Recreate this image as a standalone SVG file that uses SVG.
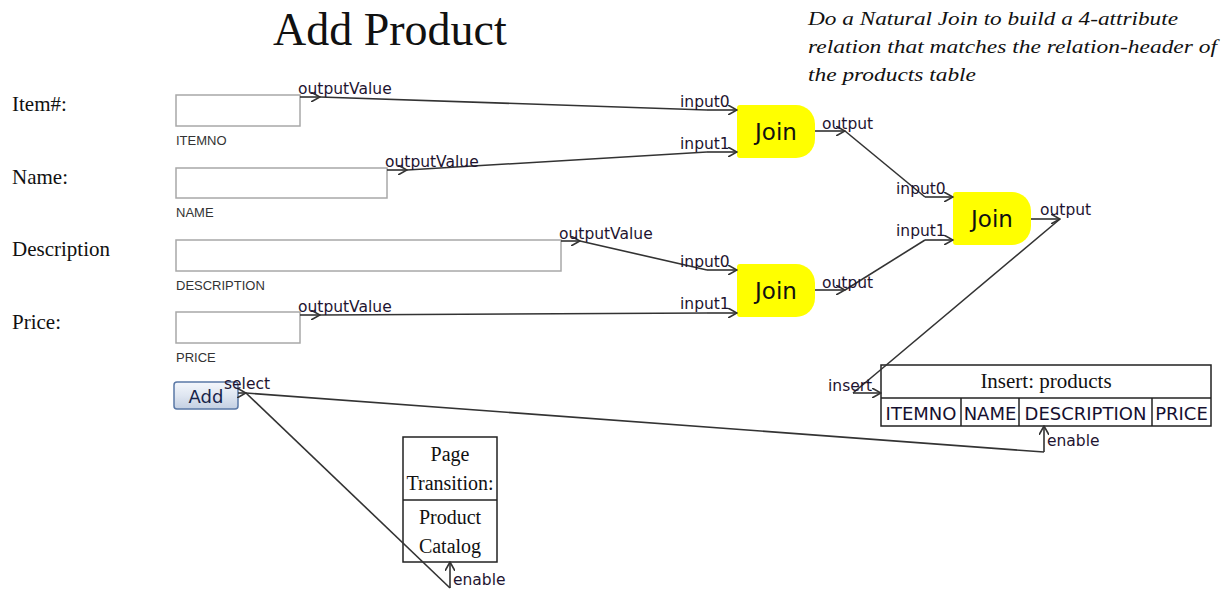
<svg xmlns="http://www.w3.org/2000/svg" width="1231" height="593" viewBox="0 0 1231 593">
  <defs>
    <style>
      .serif { font-family: "Liberation Serif", "Times New Roman", serif; fill: #111; }
      .port { font-family: "DejaVu Sans", Verdana, sans-serif; font-size: 15.5px; fill: #1e1430; }
      .field-name { font-family: "Liberation Sans", Arial, sans-serif; font-size: 13px; fill: #333; }
      .field { fill: #fff; stroke: #a8a8a8; stroke-width: 1.5; }
      .join { fill: #ffff00; }
      .join-text { font-family: "DejaVu Sans", Verdana, sans-serif; font-size: 23px; fill: #111; text-anchor: middle; }
      .box { fill: #fff; stroke: #222; stroke-width: 1.5; }
      .col { font-family: "DejaVu Sans", Verdana, sans-serif; font-size: 18px; fill: #151030; text-anchor: middle; }
      .stub { fill: none; stroke: #333; stroke-width: 1.6; marker-end: url(#chevron); }
      .link { fill: none; stroke: #333; stroke-width: 1.6; }
    </style>
    <marker id="chevron" viewBox="0 0 10 10" refX="9" refY="5" markerWidth="10" markerHeight="10" markerUnits="userSpaceOnUse" orient="auto">
      <path d="M0,0 L9,5 L0,10" fill="none" stroke="#333" stroke-width="1.6"/>
    </marker>
    <linearGradient id="btnFill" x1="0" y1="0" x2="0" y2="1">
      <stop offset="0" stop-color="#f4f7fc"/>
      <stop offset="0.5" stop-color="#dfe6f1"/>
      <stop offset="1" stop-color="#c3cfe2"/>
    </linearGradient>
  </defs>

  <rect width="1231" height="593" fill="#fff"/>

  <!-- page heading and note -->
  <g id="title">
    <text class="serif" x="273" y="45" font-size="46">Add Product</text>
  </g>
  <g id="note" class="serif" font-style="italic" font-size="19">
    <text x="808" y="25" textLength="370" lengthAdjust="spacingAndGlyphs">Do a Natural Join to build a 4-attribute</text>
    <text x="808" y="53" textLength="409" lengthAdjust="spacingAndGlyphs">relation that matches the relation-header of</text>
    <text x="808" y="81" textLength="168" lengthAdjust="spacingAndGlyphs">the products table</text>
  </g>

  <!-- form fields -->
  <g id="field-itemno">
    <text class="serif" x="12" y="111" font-size="21">Item#:</text>
    <rect class="field" x="176" y="95" width="124" height="31"/>
    <text class="field-name" x="176" y="145">ITEMNO</text>
  </g>
  <g id="field-name">
    <text class="serif" x="12" y="184" font-size="21">Name:</text>
    <rect class="field" x="176" y="168" width="211" height="30"/>
    <text class="field-name" x="176" y="217">NAME</text>
  </g>
  <g id="field-description">
    <text class="serif" x="12" y="256" font-size="21">Description</text>
    <rect class="field" x="176" y="240" width="385" height="31"/>
    <text class="field-name" x="176" y="290">DESCRIPTION</text>
  </g>
  <g id="field-price">
    <text class="serif" x="12" y="329" font-size="21">Price:</text>
    <rect class="field" x="176" y="312" width="124" height="31"/>
    <text class="field-name" x="176" y="362">PRICE</text>
  </g>

  <g id="add-button">
    <rect x="174" y="382" width="64" height="27" rx="3" fill="url(#btnFill)" stroke="#5a78a6" stroke-width="1.5"/>
    <text x="206" y="403" font-family="DejaVu Sans, Verdana, sans-serif" font-size="18" fill="#18244a" text-anchor="middle">Add</text>
  </g>

  <!-- join operators -->
  <g id="join1">
    <path class="join" d="M740,105 H796 A19,19 0 0 1 815,124 V139 A19,19 0 0 1 796,158 H740 A3,3 0 0 1 737,155 V108 A3,3 0 0 1 740,105 Z"/>
    <text class="join-text" x="776" y="140">Join</text>
  </g>
  <g id="join2">
    <path class="join" d="M956,192 H1012 A19,19 0 0 1 1031,211 V226 A19,19 0 0 1 1012,245 H956 A3,3 0 0 1 953,242 V195 A3,3 0 0 1 956,192 Z"/>
    <text class="join-text" x="992" y="227">Join</text>
  </g>
  <g id="join3">
    <path class="join" d="M740,264 H796 A19,19 0 0 1 815,283 V298 A19,19 0 0 1 796,317 H740 A3,3 0 0 1 737,314 V267 A3,3 0 0 1 740,264 Z"/>
    <text class="join-text" x="776" y="299">Join</text>
  </g>

  <!-- insert into products -->
  <g id="insert-products">
    <rect class="box" x="881" y="365" width="330" height="61"/>
    <line x1="881" y1="398" x2="1211" y2="398" stroke="#222" stroke-width="1.5"/>
    <line x1="961" y1="398" x2="961" y2="426" stroke="#222" stroke-width="1.5"/>
    <line x1="1019" y1="398" x2="1019" y2="426" stroke="#222" stroke-width="1.5"/>
    <line x1="1152" y1="398" x2="1152" y2="426" stroke="#222" stroke-width="1.5"/>
    <text class="serif" x="1046" y="388" font-size="21" text-anchor="middle">Insert: products</text>
    <text class="col" x="921" y="420">ITEMNO</text>
    <text class="col" x="990" y="420">NAME</text>
    <text class="col" x="1085.5" y="420">DESCRIPTION</text>
    <text class="col" x="1181.5" y="420">PRICE</text>
  </g>

  <!-- page transition -->
  <g id="page-transition">
    <rect class="box" x="403" y="437" width="94" height="125"/>
    <line x1="403" y1="500" x2="497" y2="500" stroke="#222" stroke-width="1.5"/>
    <g class="serif" font-size="20" text-anchor="middle">
      <text x="450" y="461">Page</text>
      <text x="450" y="490">Transition:</text>
      <text x="450" y="524">Product</text>
      <text x="450" y="553">Catalog</text>
    </g>
  </g>

  <!-- wiring between ports -->
  <g id="connectors">
    <path class="link" d="M320,97 L707,110"/>
    <path class="link" d="M407,170 L707,152"/>
    <path class="link" d="M580,241 L707,270"/>
    <path class="link" d="M320,315 L707,313"/>
    <path class="link" d="M845,131 L925,197"/>
    <path class="link" d="M845,290 L925,240"/>
    <path class="link" d="M1060,219 L853,393"/>
    <path class="link" d="M246,393 L1044,452"/>
    <path class="link" d="M246,393 L450,588"/>

    <path class="stub" d="M300,97 H320"/>
    <path class="stub" d="M387,170 H407"/>
    <path class="stub" d="M561,241 H580"/>
    <path class="stub" d="M300,315 H320"/>
    <path class="stub" d="M707,110 H737"/>
    <path class="stub" d="M707,152 H737"/>
    <path class="stub" d="M815,131 H845"/>
    <path class="stub" d="M925,197 H953"/>
    <path class="stub" d="M925,240 H953"/>
    <path class="stub" d="M1031,219 H1060"/>
    <path class="stub" d="M707,270 H737"/>
    <path class="stub" d="M707,313 H737"/>
    <path class="stub" d="M815,290 H845"/>
    <path class="stub" d="M853,393 H881"/>
    <path class="stub" d="M238,393 H246"/>
    <path class="stub" d="M1044,452 V426"/>
    <path class="stub" d="M450,588 V562"/>
  </g>

  <!-- port labels -->
  <g id="port-labels" class="port">
    <text x="298" y="94">outputValue</text>
    <text x="385" y="167">outputValue</text>
    <text x="559" y="239">outputValue</text>
    <text x="298" y="312">outputValue</text>
    <text x="680" y="107">input0</text>
    <text x="680" y="149">input1</text>
    <text x="822" y="129">output</text>
    <text x="896" y="194">input0</text>
    <text x="896" y="236">input1</text>
    <text x="1040" y="215">output</text>
    <text x="680" y="267">input0</text>
    <text x="680" y="309">input1</text>
    <text x="822" y="288">output</text>
    <text x="828" y="391">insert</text>
    <text x="1047" y="446">enable</text>
    <text x="224" y="389">select</text>
    <text x="453" y="585">enable</text>
  </g>
</svg>
